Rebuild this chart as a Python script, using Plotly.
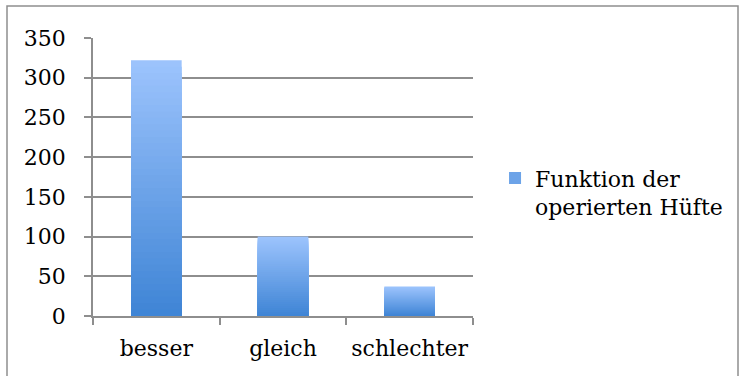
import plotly.graph_objects as go

categories = ["besser", "gleich", "schlechter"]
values = [322, 100, 37]
series_name = "Funktion der<br>operierten Hüfte"
y_ticks = [0, 50, 100, 150, 200, 250, 300, 350]

top_rgb = (157, 196, 253)
bot_rgb = (62, 132, 213)
N = 40

fig = go.Figure()
for k in range(N):
    frac_top = (N - k) / N
    f = (N - k - 0.5) / N  # position of visible strip (0 bottom, 1 top)
    c = tuple(round(bot_rgb[i] + (top_rgb[i] - bot_rgb[i]) * f) for i in range(3))
    fig.add_trace(go.Bar(
        x=categories,
        y=[v * frac_top for v in values],
        marker=dict(color="rgb(%d,%d,%d)" % c, line=dict(width=0)),
        name=series_name,
        showlegend=(k == N // 2),
        hoverinfo="skip" if k else None,
    ))

grid = "#8e8e8e"
font = dict(family="DejaVu Serif", size=22, color="black")

fig.update_layout(
    width=739, height=376,
    margin=dict(l=93, r=266, t=38, b=60, autoexpand=False),
    paper_bgcolor="white", plot_bgcolor="white",
    barmode="overlay", bargap=0.6,
    font=font,
    showlegend=True,
    legend=dict(x=1.058, y=0.571, xanchor="left", yanchor="top", valign="top",
                font=font, bgcolor="rgba(0,0,0,0)", tracegroupgap=0),
    xaxis=dict(showline=True, linecolor=grid, linewidth=1.5, ticks="outside",
               tickson="boundaries", ticklen=7, tickcolor=grid, tickwidth=1.5,
               showgrid=False, tickfont=font, tickangle=0, automargin=False,
               ticklabelstandoff=12),
    yaxis=dict(range=[0, 350], tickvals=y_ticks, showline=True, linecolor=grid,
               linewidth=1.5, ticks="outside", ticklen=7, tickcolor=grid, tickwidth=1.5,
               showgrid=True, gridcolor=grid, gridwidth=1.5, zeroline=False,
               ticklabelstandoff=14, tickfont=font, automargin=False),
    shapes=[dict(type="rect", xref="paper", yref="paper",
                 x0=-86/380, x1=645/380, y0=-0.5, y1=(318-8)/278,
                 line=dict(color=grid, width=1.5), layer="below")],
)

fig.write_html("out.html")
